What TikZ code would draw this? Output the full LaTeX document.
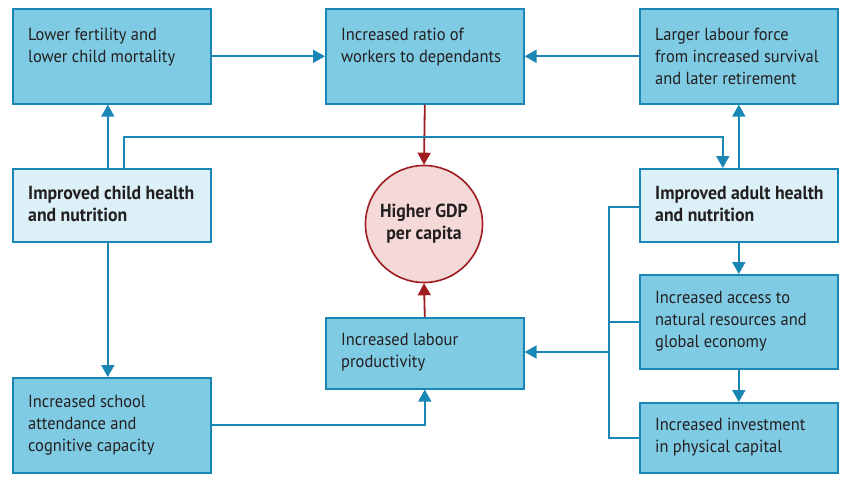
\documentclass[tikz,border=0pt]{standalone}
\usepackage{fontspec}
\setmainfont{PT Sans}[FakeStretch=0.94]
\usetikzlibrary{arrows.meta}
\definecolor{boxfill}{HTML}{80CBE4}
\definecolor{lightfill}{HTML}{DBF0F7}
\definecolor{edge}{HTML}{1A86B5}
\definecolor{redline}{HTML}{9E1B20}
\definecolor{gdpfill}{HTML}{F5D9D8}
\definecolor{ink}{HTML}{231F20}
\begin{document}
\begin{tikzpicture}[x=1pt,y=-1pt,
  box/.style={draw=edge, line width=1.6pt, fill=boxfill, anchor=north west, inner sep=0pt, minimum width=198pt},
  lbox/.style={box, fill=lightfill},
  txt/.style={anchor=base west, inner sep=0pt, align=left, font=\fontsize{17.5}{22}\selectfont, text=ink},
  btxt/.style={txt, font=\fontsize{18.9}{22}\selectfont\bfseries},
  conn/.style={draw=edge, line width=1.8pt, -{Triangle[length=12pt,width=13pt]}},
  plain/.style={draw=edge, line width=1.8pt},
  rconn/.style={draw=redline, line width=1.8pt, -{Triangle[length=12pt,width=13pt]}}]
\useasboundingbox (0,0) rectangle (846,482);
% boxes
\node[box, minimum height=95pt] (A) at (12,8) {};
\node[box, minimum height=95pt] (B) at (325,8) {};
\node[box, minimum height=95pt] (C) at (639,8) {};
\node[lbox, minimum height=73pt] (D) at (12,168) {};
\node[lbox, minimum height=73pt] (E) at (639,168) {};
\node[box, minimum height=71pt] (F) at (325,317) {};
\node[box, minimum height=95pt] (G) at (12,377) {};
\node[box, minimum height=94pt] (H) at (639,274) {};
\node[box, minimum height=70pt] (I) at (639,402) {};
\node[circle, draw=redline, line width=1.6pt, fill=gdpfill, minimum size=117pt, inner sep=0pt] (gdp) at (424,224) {};
% texts (base anchor = last line)
\node[txt] (At) at ([xshift=16pt,yshift=-54pt]A.north west) {Lower fertility and\\lower child mortality};
\node[txt] (Bt) at ([xshift=16pt,yshift=-54pt]B.north west) {Increased ratio of\\workers to dependants};
\node[txt] (Ct) at ([xshift=16pt,yshift=-76pt]C.north west) {Larger labour force\\from increased survival\\and later retirement};
\node[btxt] (Dt) at ([xshift=16pt,yshift=-53pt]D.north west) {Improved child health\\and nutrition};
\node[btxt] (Et) at ([xshift=16pt,yshift=-53pt]E.north west) {Improved adult health\\and nutrition};
\node[txt] (Ft) at ([xshift=16pt,yshift=-50pt]F.north west) {Increased labour\\productivity};
\node[txt] (Gt) at ([xshift=16pt,yshift=-74pt]G.north west) {Increased school\\attendance and\\cognitive capacity};
\node[txt] (Ht) at ([xshift=16pt,yshift=-73pt]H.north west) {Increased access to\\natural resources and\\global economy};
\node[txt] (It) at ([xshift=16pt,yshift=-50pt]I.north west) {Increased investment\\in physical capital};
\node[align=center, inner sep=0pt, text=ink, font=\fontsize{18.9}{22}\selectfont\bfseries] (gdpt) at (gdp) {Higher GDP\\per capita};
% connectors
\draw[conn] (A.east) -- (B.west);
\draw[conn] (C.west) -- (B.east);
\draw[rconn] (B.south) -- (gdp.north);
\draw[rconn] (F.north) -- (gdp.south);
\draw[conn] ([xshift=-4pt]D.north) -- ([xshift=-4pt]A.south);
\draw[conn] ([xshift=12pt]D.north) -- ++(0,-31) -| ([xshift=-16pt]E.north);
\draw[conn] ([xshift=0pt]E.north) -- (C.south);
\draw[conn] ([xshift=-4pt]D.south) -- ([xshift=-4pt]G.north);
\draw[conn] (G.east) -| (F.south);
\draw[conn] (E.south) -- (H.north);
\draw[conn] (H.south) -- (I.north);
\coordinate (brT) at (609,207);
\coordinate (brB) at (609,438);
\coordinate (brM) at (609,352);
\draw[plain] (E.west |- brT) -- (brT) -- (brB) -- (I.west |- brB);
\draw[plain] (brT |- H.west) -- (H.west);
\draw[conn] (brM) -- (F.east |- brM);
\end{tikzpicture}
\end{document}
